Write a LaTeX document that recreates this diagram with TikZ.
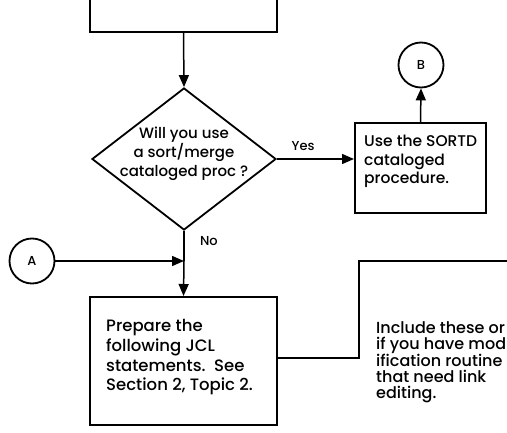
\documentclass[tikz,border=0pt]{standalone}
\usepackage{fontspec}
\setmainfont{Poppins}[UprightFont=* Medium]
\usetikzlibrary{shapes.geometric,arrows.meta}
\tikzset{
  box/.style={draw, line width=2pt, rectangle, inner sep=0pt},
  decision/.style={draw, line width=1.8pt, diamond, inner sep=0pt, minimum width=184pt, minimum height=142pt},
  conn/.style={draw, line width=1.8pt, circle, inner sep=0pt, minimum size=45pt},
  flow/.style={line width=1.5pt},
  arr/.style={flow, -{Triangle[length=12pt,width=10pt]}},
  txt/.style={align=left, inner sep=0pt},
  small/.style={font=\fontsize{13}{15}\selectfont},
}
\begin{document}
\begin{tikzpicture}[x=1pt,y=-1pt]
\useasboundingbox (0,0) rectangle (507,433);
\clip (0,0) rectangle (507,433);
\node[box, minimum width=187pt, minimum height=60pt] (top) at (183.5,2) {};
\node[decision, label={[txt, align=center, anchor=center, yshift=5pt, font=\fontsize{15}{19}\selectfont]center:Will you use\\a sort/merge\\cataloged proc ?}] (q) at (184,159) {};
\node[box, minimum width=131pt, minimum height=90pt,
  label={[txt, anchor=west, xshift=10pt, yshift=6.5pt, font=\fontsize{15.5}{18.5}\selectfont]west:Use the SORTD\\cataloged\\procedure.}] (sortd) at (420.5,168) {};
\node[conn, small] (B) at (421,65) {B};
\node[conn, small] (A) at (32,261) {A};
\coordinate (J) at (184,261);
\node[box, minimum width=187pt, minimum height=128pt,
  label={[txt, anchor=west, xshift=17pt, yshift=3.5pt, font=\fontsize{16.5}{19.7}\selectfont]west:Prepare the\\following JCL\\statements.\ \ See\\Section 2, Topic 2.}] (prep) at (183.5,361) {};
\coordinate (b1) at (359,358);
\coordinate (b2) at (359,261);
\coordinate (b3) at (515,261);
\node[txt, anchor=north west, font=\fontsize{16}{16}\selectfont] (note) at (376,321) {Include these or\\if you have mod\\ification routine\\that need link\\editing.};

\draw[arr] (top.south) -- (q.north);
\draw[arr] (q.east) -- (q.east -| sortd.west) node[pos=0.34, above=4pt, small] (yes) {Yes};
\draw[arr] (sortd.north) -- (B.south);
\draw[flow] (q.south) -- (J) node[pos=0.35, right=12pt, small] (no) {No};
\draw[arr] (A.east) -- (J);
\draw[arr] (J) -- (prep.north);
\draw[flow] (prep.east |- b1) -- (b1) -- (b2) -- (b3);
\end{tikzpicture}
\end{document}
